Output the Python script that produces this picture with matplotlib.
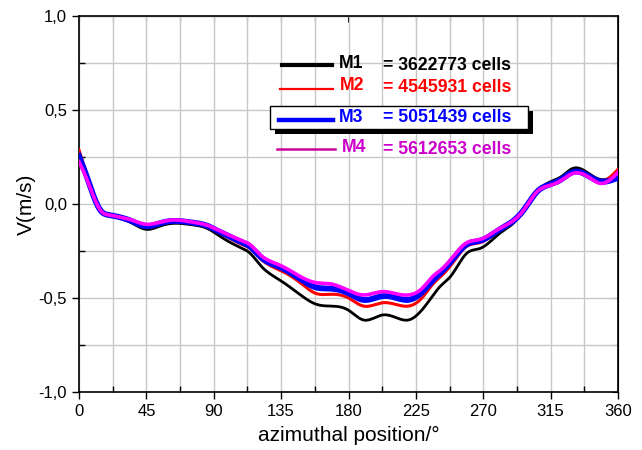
import matplotlib
matplotlib.use("Agg")
import matplotlib.pyplot as plt
from matplotlib.ticker import MultipleLocator, FuncFormatter
from matplotlib.patches import Rectangle
from matplotlib.lines import Line2D
import numpy as np

plt.rcParams['font.family'] = ['Liberation Sans', 'DejaVu Sans']

angle = [0, 5, 10, 15, 20, 25, 35, 45, 55, 63, 75, 87, 92, 100, 109, 114, 121, 134, 148,
         158, 168, 180, 190, 203, 212, 220, 229, 237, 241, 248, 259, 268, 281, 290, 297,
         306, 315, 322, 330, 340, 348, 355, 360]

m1 = [0.24, 0.14, 0.035, -0.042, -0.06, -0.07, -0.10, -0.135, -0.115, -0.103, -0.11, -0.135,
      -0.16, -0.20, -0.236, -0.26, -0.325, -0.404, -0.484, -0.532, -0.543, -0.565, -0.617,
      -0.59, -0.605, -0.617, -0.564, -0.48, -0.44, -0.387, -0.262, -0.236, -0.156, -0.103,
      -0.035, 0.066, 0.119, 0.145, 0.19, 0.165, 0.131, 0.14, 0.165]
m2 = [0.287, 0.16, 0.04, -0.04, -0.058, -0.066, -0.09, -0.125, -0.105, -0.095, -0.10, -0.125,
      -0.145, -0.18, -0.215, -0.235, -0.29, -0.351, -0.42, -0.475, -0.48, -0.50, -0.543,
      -0.525, -0.535, -0.543, -0.50, -0.42, -0.39, -0.33, -0.225, -0.205, -0.14, -0.095,
      -0.033, 0.066, 0.11, 0.135, 0.175, 0.155, 0.12, 0.145, 0.184]
m3 = [0.255, 0.15, 0.037, -0.04, -0.058, -0.066, -0.09, -0.118, -0.10, -0.09, -0.098, -0.12,
      -0.14, -0.17, -0.205, -0.225, -0.28, -0.335, -0.40, -0.443, -0.45, -0.475, -0.51,
      -0.49, -0.50, -0.51, -0.47, -0.40, -0.37, -0.31, -0.215, -0.195, -0.135, -0.09,
      -0.032, 0.066, 0.105, 0.13, 0.17, 0.15, 0.12, 0.125, 0.14]
m4 = [0.225, 0.137, 0.035, -0.04, -0.058, -0.066, -0.085, -0.108, -0.095, -0.085, -0.095, -0.117,
      -0.135, -0.165, -0.195, -0.215, -0.27, -0.325, -0.387, -0.418, -0.425, -0.46, -0.484,
      -0.466, -0.478, -0.484, -0.45, -0.38, -0.355, -0.298, -0.206, -0.188, -0.13, -0.089,
      -0.032, 0.066, 0.10, 0.125, 0.163, 0.145, 0.11, 0.13, 0.168]

labels = ["M1", "M2", "M3", "M4"]
cells = ["= 3622773 cells", "= 4545931 cells", "= 5051439 cells", "= 5612653 cells"]

W, H = 642, 450
fig = plt.figure(figsize=(W / 100, H / 100), dpi=100)
ax = fig.add_axes([79 / W, 1 - 392 / H, (618 - 79) / W, (392 - 16) / H])


def smooth(x, y):
    """Natural cubic spline through the read points, evaluated densely."""
    x = np.asarray(x, float)
    y = np.asarray(y, float)
    n = len(x)
    h = np.diff(x)
    A = np.zeros((n, n))
    b = np.zeros(n)
    A[0, 0] = 1
    A[-1, -1] = 1
    for i in range(1, n - 1):
        A[i, i - 1] = h[i - 1]
        A[i, i] = 2 * (h[i - 1] + h[i])
        A[i, i + 1] = h[i]
        b[i] = 3 * ((y[i + 1] - y[i]) / h[i] - (y[i] - y[i - 1]) / h[i - 1])
    c = np.linalg.solve(A, b)
    xs = np.linspace(x[0], x[-1], 1441)
    idx = np.clip(np.searchsorted(x, xs) - 1, 0, n - 2)
    dx = xs - x[idx]
    hi = h[idx]
    bb = (y[idx + 1] - y[idx]) / hi - hi * (2 * c[idx] + c[idx + 1]) / 3
    d = (c[idx + 1] - c[idx]) / (3 * hi)
    ys = y[idx] + bb * dx + c[idx] * dx ** 2 + d * dx ** 3
    return xs, ys


ax.plot(*smooth(angle, m1), color='black', lw=2.0, zorder=3)
ax.plot(*smooth(angle, m2), color='#FF0000', lw=2.2, zorder=4)
ax.plot(*smooth(angle, m3), color='#0000FF', lw=4.2, zorder=5)
ax.plot(*smooth(angle, m4), color='#FF00FF', lw=2.6, zorder=6)

ax.set_xlim(0, 360)
ax.set_ylim(-1.0, 1.0)
ax.xaxis.set_major_locator(MultipleLocator(45))
ax.xaxis.set_minor_locator(MultipleLocator(22.5))
ax.yaxis.set_major_locator(MultipleLocator(0.5))
ax.yaxis.set_minor_locator(MultipleLocator(0.25))
ax.yaxis.set_major_formatter(FuncFormatter(lambda v, p: f"{v:.1f}".replace('.', ',')))
ax.grid(True, which='both', color='#C8C8C8', lw=1.0, zorder=0)
ax.tick_params(which='major', direction='out', length=5, width=1, labelsize=12)
ax.tick_params(which='minor', direction='in', length=4, width=1)
for s in ax.spines.values():
    s.set_linewidth(1.2)

top = ax.secondary_xaxis('top')
top.xaxis.set_major_locator(MultipleLocator(22.5))
top.tick_params(direction='in', length=4, labeltop=False)
right = ax.secondary_yaxis('right')
right.yaxis.set_major_locator(MultipleLocator(0.25))
right.tick_params(direction='in', length=4, labelright=False)

ax.set_xlabel("azimuthal position/°", fontsize=15, labelpad=5)
ax.set_ylabel("V(m/s)", fontsize=15, labelpad=2)


def fx(px):
    return px / W


def fy(py):
    return 1 - py / H


# box with shadow around M3
fig.patches.append(Rectangle((fx(275), fy(134)), (533 - 275) / W, (134 - 111) / H,
                             transform=fig.transFigure, facecolor='black', edgecolor='none', zorder=7))
fig.patches.append(Rectangle((fx(270), fy(129)), (528 - 270) / W, (129 - 106) / H,
                             transform=fig.transFigure, facecolor='white', edgecolor='black',
                             lw=1.0, zorder=8))

line_specs = [
    (282, 332, 65, 'black', 3.0),
    (280, 333, 89, '#FF0000', 1.6),
    (279, 333, 120, '#0000FF', 3.2),
    (277, 335, 149, '#CC0099', 1.8),
]
text_colors = ['black', '#FF0000', '#0000FF', '#CC00CC']
lab_pos = [(339, 63), (340, 86), (339, 118), (342, 148)]
cell_pos = [(383, 66), (383, 88), (383, 118), (383, 149)]
for i in range(4):
    x0, x1, yy, c, lw = line_specs[i]
    fig.add_artist(Line2D([fx(x0), fx(x1)], [fy(yy), fy(yy)], transform=fig.transFigure,
                          color=c, lw=lw, zorder=9))
    fig.text(fx(lab_pos[i][0]), fy(lab_pos[i][1]), labels[i], color=text_colors[i],
             fontsize=12.7, fontweight='bold', ha='left', va='center', zorder=9)
    fig.text(fx(cell_pos[i][0]), fy(cell_pos[i][1]), cells[i], color=text_colors[i],
             fontsize=12.7, fontweight='bold', ha='left', va='center', zorder=9)

fig.savefig("out.png", dpi=100, facecolor='white')
